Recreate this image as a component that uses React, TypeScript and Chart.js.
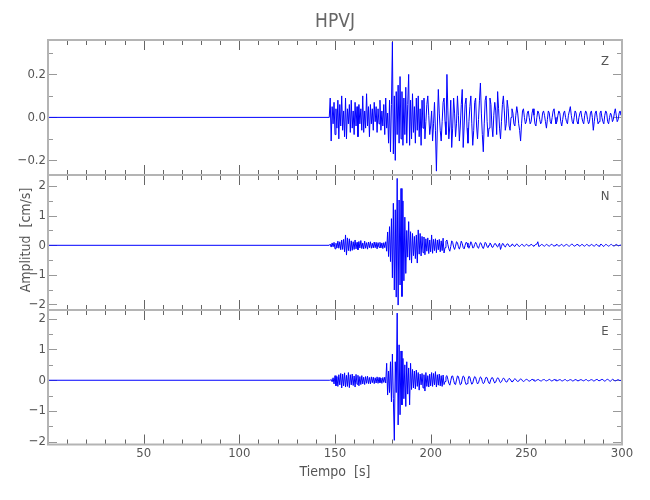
import React, { useEffect, useRef } from 'react';
import { Chart, registerables } from 'chart.js';

Chart.register(...registerables);

// ---- data (velocities in hundredths of cm/s, sampled every 0.5 s from T_ONSET to T_END) ----
const T_START = 0;
const T_ONSET = 147;
const T_END = 300;

const Z_CENTI = [
  0, 9, -11, 5, -3, 7, -8, 4, -5, 8, -10, 6, -4, 10, -6, 3, -9, 9, -10, 4,
  -3, 6, -7, 8, -5, 3, -8, 7, -4, 5, -9, 6, -3, 4, -6, 10, -7, 3, -5, 11,
  -4, 5, -9, 6, -3, 4, -6, 7, -2, 5, -7, 4, -3, 8, -6, 3, -4, 6, -8, 9,
  -5, 2, -12, 8, -16, 6, 35, -17, 10, -20, 12, -8, 15, -12, 19, -10, 12, -13, 9, -8,
  14, -12, 6, 20, -13, 8, -10, 11, -7, 5, -12, 9, -6, 10, -9, 4, -13, 8, -5, 9,
  -10, -2, 6, 10, 1, -8, -4, 3, -11, -3, 7, -6, -25, -4, 13, 2, -6, -11, -2, 7,
  9, -2, -8, 20, 3, -10, -4, 8, -14, -5, 9, 2, -9, -3, 10, 1, -11, -4, 6, 13,
  -14, -4, 6, 9, -5, -12, -2, 5, 10, -3, -13, -6, 7, 9, -4, -10, -1, 8, 16, 2,
  -8, -16, -3, 8, 10, -2, -9, -5, 9, 6, -4, -9, 1, 7, 3, -8, 12, 4, -5, -10,
  -2, 6, 10, 3, -6, -3, 8, 4, -4, -6, 0, 4, 2, -3, -4, 1, 5, 2, -3, -6,
  -11, -3, 3, 4, 0, -3, -2, 2, 3, 0, -3, -2, 2, 4, 1, -3, -4, 0, 3, 2,
  -1, -3, -2, 2, 3, 1, -2, -5, -1, 3, 2, -2, -3, 0, 3, 4, 0, -3, -2, 1,
  3, 2, -2, -4, -1, 2, 3, 0, -2, -3, 1, 3, 5, 1, -2, -3, 0, 3, 2, -2,
  -3, 0, 2, 3, 0, -2, -3, 1, 3, 2, -1, -3, -2, 2, 3, 0, -6, -2, 2, 3,
  0, -3, -2, 2, 3, 0, -2, -3, 1, 3, 2, -2, -3, 0, 2, 1, -2, -1, 2, 4,
  1, -2, -1, 2, 3, 1, 3,
];

const N_CENTI = [
  0, 4, -6, 8, -5, 10, -12, 7, -9, 14, -10, 12, -15, 18, -14, 20, -22, 35, -33, 25,
  -18, 22, -20, 15, -17, 12, -14, 18, -12, 10, -15, 13, -9, 16, -11, 8, -12, 14, -10, 9,
  -13, 11, -8, 12, -10, 7, -9, 11, -8, 10, -12, 9, -7, 10, -9, 8, -11, 9, -8, 12,
  -20, 45, -38, 63, -55, 90, -110, 142, -151, 120, -175, 226, -202, 153, -134, 192, -173, 150, -120, 95,
  -95, 50, -40, 80, -50, 46, -60, 40, -35, 30, -45, 35, -60, 52, -30, 40, -36, 30, -25, 28,
  -32, 22, -20, 25, -28, 18, -22, 35, -27, 20, -18, 22, -25, 18, -15, 20, -22, 15, -18, 24,
  -26, -8, 14, 18, 2, -12, -20, -4, 15, 10, -6, -14, -3, 12, 9, -5, -13, -2, 14, 6,
  -8, -12, 0, 10, 8, -6, -10, -1, 12, 5, -9, -8, 3, 10, 4, -7, -10, 0, 9, 5,
  -6, -11, -2, 10, 6, -5, -8, 1, 8, 4, -6, -7, 0, 6, 5, -3, -6, 2, 7, -14,
  -4, 6, 5, -3, -6, 0, 5, 4, -3, -5, 0, 4, 3, -2, -4, 1, 5, 2, -3, -4,
  0, 3, 3, -2, -3, 0, 3, 2, -2, -3, 1, 3, 2, -2, -3, 1, 3, 4, 12, -4,
  -3, 1, 3, 2, -2, -3, 0, 3, 2, -2, -3, 0, 3, 3, -1, -3, -1, 2, 3, 0,
  -3, -2, 2, 3, 0, -3, -2, 2, 3, 1, -2, -3, 0, 3, 4, 0, -3, -2, 1, 3,
  2, -2, -3, 0, 3, 2, -2, -3, 0, 3, 2, -2, -3, 1, 3, 2, -2, -3, 0, 3,
  2, -2, -3, 1, 4, 2, -2, -4, 0, 3, 2, -1, -3, -1, 2, 3, 0, -2, -2, 1,
  3, 1, -2, -1, 1, 0, 0,
];

const E_CENTI = [
  0, 0, 3, -5, 8, -12, 15, -18, 12, -20, 18, -15, 22, -25, 20, -18, 24, -22, 16, -20,
  25, -24, 18, -15, 20, -17, 14, -22, 19, -13, 16, -18, 12, -14, 15, -12, 10, -14, 12, -10,
  13, -11, 9, -12, 11, -8, 10, -11, 8, -9, 11, -10, 9, -8, 7, -10, 9, -7, 10, -9,
  55, -48, 30, -40, 60, -70, 85, -60, -195, 60, -40, 218, -145, 115, -112, 95, -80, 71, -60, 50,
  -85, 60, -45, 40, -80, 55, -30, 35, -25, 30, -28, 33, -20, 25, -32, 20, -15, 22, -25, 18,
  -35, 25, -20, 15, -22, 20, -18, 25, -20, 22, -15, 28, -22, 18, -16, 20, -18, 15, -20, 17,
  -14, -4, 12, 15, 3, -10, -16, -2, 13, 14, 0, -12, -14, 1, 14, 12, -3, -15, -12, 4,
  14, 11, -4, -14, -11, 3, 13, 10, -4, -13, -9, 4, 12, 9, -4, -12, -8, 3, 11, 8,
  -4, -11, -8, 3, 10, 8, -3, -10, -7, 3, 9, 7, -3, -9, -6, 3, 8, 6, -3, -8,
  -5, 2, 7, 5, -2, -6, -5, 2, 6, 4, -2, -5, -4, 2, 5, 3, -2, -4, -3, 2,
  4, 3, -2, -4, -2, 1, 3, 2, -1, -3, -2, 1, 3, 2, -1, -3, -2, 1, 2, 2,
  -1, -2, -2, 1, 2, 2, -1, -2, -1, 1, 3, 1, -2, -2, 0, 2, 2, -1, -2, -1,
  1, 2, 1, -2, -2, 0, 2, 2, -1, -2, -1, 1, 2, 1, -2, -2, 0, 2, 2, -1,
  -2, -1, 1, 2, 1, -1, -2, 0, 2, 2, -1, -2, -1, 1, 2, 1, -2, -2, 0, 2,
  3, 0, -2, -2, 1, 3, 2, -1, -3, -1, 2, 3, 1, -2, -3, 0, 3, 2, -1, -2,
  -1, 1, 2, 0, -1, 0, 0,
];

const X_TICKS = [50, 100, 150, 200, 250, 300];
const Z_TICKS = [-0.2, 0, 0.2];
const Z_MINOR = [-0.1, 0.1, 0.3];
const NE_TICKS = [-2, -1, 0, 1, 2];
const NE_MINOR = [-1.5, -0.5, 0.5, 1.5];

const TITLE = 'HPVJ';
const X_TITLE = 'Tiempo  [s]';
const Y_TITLE = 'Amplitud  [cm/s]';

const FONT = "'Liberation Sans Narrow', 'DejaVu Sans Condensed', 'Arial Narrow', sans-serif";
const W = 650;
const H = 500;

function toPoints(centi: number[]) {
  const pts: { x: number; y: number }[] = [{ x: T_START, y: 0 }];
  const dt = (T_END - T_ONSET) / (centi.length - 1);
  centi.forEach((v, i) => pts.push({ x: T_ONSET + i * dt, y: v / 100 }));
  return pts;
}

const fmtZ = (v: number) => (v === 0 ? '0.0' : (v < 0 ? '\u2212' : '') + Math.abs(v).toFixed(1));
const fmtNE = (v: number) => (v < 0 ? '\u2212' + Math.abs(v) : String(v));

type Panel = {
  letter: string;
  data: number[];
  min: number;
  max: number;
  top: number;
  bottom: number;
  major: number[];
  minor: number[];
  fmt: (v: number) => string;
  role: 'top' | 'mid' | 'bottom';
};

const PANELS: Panel[] = [
  { letter: 'Z', data: Z_CENTI, min: -0.268, max: 0.36, top: 40, bottom: 175, major: Z_TICKS, minor: Z_MINOR, fmt: fmtZ, role: 'top' },
  { letter: 'N', data: N_CENTI, min: -2.186, max: 2.375, top: 175, bottom: 310, major: NE_TICKS, minor: NE_MINOR, fmt: fmtNE, role: 'mid' },
  { letter: 'E', data: E_CENTI, min: -2.085, max: 2.28, top: 310, bottom: 444.5, major: NE_TICKS, minor: NE_MINOR, fmt: fmtNE, role: 'bottom' },
];

const LEFT = 48;
const RIGHT = 622;
const XAXIS_H = 22;

const framePlugin = {
  id: 'seisFrame',
  beforeDatasetsDraw(chart: any) {
    const p: Panel = chart.options.plugins.seisFrame.panel;
    const { ctx, chartArea: a, scales } = chart;
    const xs = scales.x;
    const ys = scales.y;
    ctx.save();
    // x ticks (top and bottom, inward)
    ctx.lineWidth = 1;
    ctx.strokeStyle = '#666';
    for (let v = 10; v < 300; v += 10) {
      const px = Math.round(xs.getPixelForValue(v)) + 0.5;
      const len = v % 50 === 0 ? 10 : 5;
      ctx.beginPath();
      ctx.moveTo(px, a.top);
      ctx.lineTo(px, a.top + len);
      ctx.moveTo(px, a.bottom);
      ctx.lineTo(px, a.bottom - len);
      ctx.stroke();
    }
    // y ticks (left and right, inward)
    ctx.strokeStyle = '#999';
    const yt = (vals: number[], len: number) => {
      vals.forEach((v) => {
        const py = Math.round(ys.getPixelForValue(v)) + 0.5;
        ctx.beginPath();
        ctx.moveTo(a.left, py);
        ctx.lineTo(a.left + len, py);
        ctx.moveTo(a.right, py);
        ctx.lineTo(a.right - len, py);
        ctx.stroke();
      });
    };
    yt(p.major, 9);
    yt(p.minor, 5);
    ctx.restore();
  },
  afterDraw(chart: any) {
    const p: Panel = chart.options.plugins.seisFrame.panel;
    const { ctx, chartArea: a } = chart;
    ctx.save();
    // frame
    ctx.strokeStyle = '#b4b4b4';
    ctx.lineWidth = 2;
    ctx.strokeRect(a.left, a.top, a.right - a.left, a.bottom - a.top);
    // component letter
    ctx.fillStyle = '#555';
    ctx.font = `13px ${FONT}`;
    ctx.textAlign = 'center';
    ctx.textBaseline = 'middle';
    ctx.fillText(p.letter, 605, a.top + 22);
    const cx = (a.left + a.right) / 2;
    if (p.role === 'top') {
      ctx.fillStyle = '#666';
      ctx.font = `19px ${FONT}`;
      ctx.fillText(TITLE, cx, 22);
    }
    if (p.role === 'mid') {
      ctx.fillStyle = '#555';
      ctx.font = `14px ${FONT}`;
      ctx.translate(26, 240);
      ctx.rotate(-Math.PI / 2);
      ctx.fillText(Y_TITLE, 0, 0);
    }
    if (p.role === 'bottom') {
      ctx.fillStyle = '#555';
      ctx.font = `14px ${FONT}`;
      ctx.fillText(X_TITLE, cx, 472);
    }
    ctx.restore();
  },
};

function PanelChart({ panel }: { panel: Panel }) {
  const ref = useRef<HTMLCanvasElement | null>(null);
  useEffect(() => {
    if (!ref.current) return;
    const showX = panel.role === 'bottom';
    const chart = new Chart(ref.current, {
      type: 'line',
      data: {
        datasets: [
          {
            data: toPoints(panel.data),
            borderColor: '#0000ff',
            borderWidth: 1,
            pointRadius: 0,
            tension: 0,
            fill: false,
          },
        ],
      },
      options: {
        responsive: false,
        animation: false,
        parsing: false,
        normalized: true,
        events: [],
        layout: {
          padding: {
            left: 0,
            right: W - RIGHT,
            top: panel.top,
            bottom: showX ? H - panel.bottom - XAXIS_H : H - panel.bottom,
          },
        },
        plugins: {
          legend: { display: false },
          tooltip: { enabled: false },
          title: { display: false },
          seisFrame: { panel },
        } as any,
        scales: {
          x: {
            type: 'linear',
            min: 0,
            max: 300,
            display: showX,
            grid: { display: false, drawTicks: false },
            border: { display: false },
            afterBuildTicks: (s: any) => {
              s.ticks = X_TICKS.map((v) => ({ value: v }));
            },
            afterFit: (s: any) => {
              s.height = showX ? XAXIS_H : 0;
            },
            ticks: {
              autoSkip: false,
              maxRotation: 0,
              padding: 1,
              color: '#555',
              font: { family: FONT, size: 13 },
            },
          },
          y: {
            type: 'linear',
            min: panel.min,
            max: panel.max,
            grid: { display: false, drawTicks: false },
            border: { display: false },
            afterBuildTicks: (s: any) => {
              s.ticks = panel.major.map((v) => ({ value: v }));
            },
            afterFit: (s: any) => {
              s.width = LEFT;
            },
            ticks: {
              padding: 2,
              color: '#555',
              font: { family: FONT, size: 13 },
              callback: (v: any) => panel.fmt(Number(v)),
            },
          },
        },
      } as any,
      plugins: [framePlugin],
    });
    return () => chart.destroy();
  }, [panel]);
  return (
    <canvas
      ref={ref}
      width={W}
      height={H}
      style={{ position: 'absolute', left: 0, top: 0, width: W, height: H }}
    />
  );
}

export default function App() {
  return (
    <div style={{ position: 'fixed', left: 0, top: 0, width: W, height: H, background: '#fff' }}>
      {PANELS.map((p) => (
        <PanelChart key={p.letter} panel={p} />
      ))}
    </div>
  );
}
